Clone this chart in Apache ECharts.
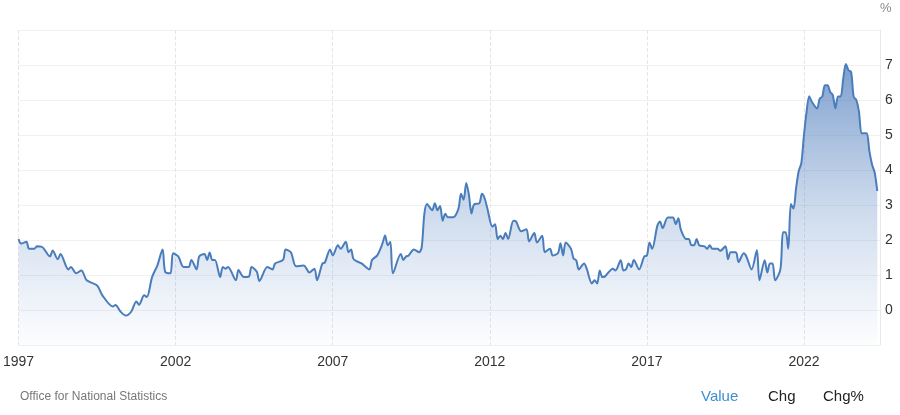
<!DOCTYPE html>
<html><head><meta charset="utf-8">
<script src="https://cdn.jsdelivr.net/npm/echarts@6/dist/echarts.min.js"></script>
<style>html,body{margin:0;padding:0;background:#fff}#c{width:900px;height:415px}</style>
</head><body><div id="c"></div>
<script>
// month offsets from Jan 1997
const monthIdx = [0,1,3,4,6,7,9,12,13,15,16,19,20,22,24,26,30,32,36,37,39,41,43,45,46,48,49,51,53,55,56,58,59,61,63,65,66,68,69,71,72,73,74,75,77,78,79,80,83,84,86,88,89,91,92,95,97,98,101,102,104,106,109,110,111,113,114,116,117,119,120,122,123,125,126,127,128,131,134,135,137,139,140,141,142,143,146,147,148,149,151,153,154,155,156,158,159,160,161,162,163,164,166,168,169,170,171,172,173,174,176,177,178,179,181,182,183,184,185,186,187,189,190,192,194,195,197,198,200,201,203,204,206,207,208,209,211,212,213,214,216,217,219,220,221,222,223,224,227,228,230,231,232,233,234,235,237,239,240,241,242,244,245,246,248,250,251,252,253,255,256,257,258,259,260,262,263,264,265,267,268,270,271,272,274,275,277,278,280,282,283,285,286,287,288,289,291,292,293,294,295,296,297,298,299,300,301,302,303,305,306,307,308,309,310,311,312,313,314,315,316,317,318,319,320,321,322,323,324,325,326,327,328];
const values = [2.03,1.9,1.95,1.75,1.75,1.82,1.8,1.53,1.7,1.45,1.6,1.16,1.23,1.05,1.13,0.85,0.7,0.42,0.1,0.14,-0.05,-0.16,-0.05,0.24,0.15,0.42,0.37,0.94,1.27,1.73,1.09,1.05,1.62,1.53,1.23,1.23,1.43,1.16,1.53,1.6,1.43,1.64,1.43,1.43,0.94,1.23,1.18,1.23,0.85,1.14,0.94,0.96,1.23,1.09,0.83,1.23,1.16,1.33,1.43,1.73,1.65,1.25,1.27,1.18,1.07,1.18,0.85,1.32,1.36,1.73,1.56,1.85,1.75,1.95,1.65,1.73,1.45,1.33,1.16,1.43,1.56,1.9,2.13,1.85,1.95,1.05,1.6,1.43,1.53,1.56,1.73,1.65,1.8,2.75,3.03,2.85,3.05,2.85,2.97,2.55,2.75,2.65,2.65,2.89,3.32,3.15,3.63,3.3,2.76,3.02,3.05,3.32,3.2,2.92,2.38,2.45,2.03,2.12,2.03,2.2,2.03,2.55,2.53,2.25,2.31,1.96,2.2,1.93,2.12,1.65,1.75,1.56,1.62,1.91,1.56,1.93,1.75,1.47,1.42,1.16,1.33,1.18,0.76,0.85,0.76,1.13,0.94,0.96,1.18,1.13,1.42,1.13,1.16,1.33,1.23,1.43,1.16,1.53,1.55,1.93,1.75,2.41,2.53,2.34,2.64,2.64,2.45,2.62,2.29,2.03,2.03,1.85,1.85,2.03,1.85,1.82,1.75,1.85,1.75,1.75,1.69,1.82,1.45,1.65,1.65,1.37,1.62,1.53,1.16,1.71,0.85,1.42,1.07,1.33,1.33,0.85,1.16,2.22,2.22,1.75,3.03,2.9,3.49,3.97,4.2,5.0,5.67,6.11,5.95,5.76,6.04,6.1,6.42,6.42,6.23,6.14,5.76,6.1,6.1,6.61,7.03,6.85,6.8,6.09,6.0,5.67,5.05,5.05,5.05,4.53,4.16,3.93,3.4];
const xTicks = [1997,2002,2007,2012,2017,2022];
const yTicks = [0,1,2,3,4,5,6,7];

const data = monthIdx.map((m,i)=>[1997+m/12, values[i]]);
const chart = echarts.init(document.getElementById('c'));
chart.setOption({
  animation:false,
  grid:{left:15,right:20,top:30,bottom:70},
  xAxis:{type:'value',min:1997,max:2024.42,interval:5,
    axisLine:{show:false},axisTick:{show:false},
    axisLabel:{color:'#333',fontSize:14,fontFamily:'Arial, Liberation Sans',margin:10,showMaxLabel:false,
      formatter:v=>xTicks.includes(Math.round(v))?String(Math.round(v)):''},
    splitLine:{show:true,lineStyle:{color:'#e6e6e6',type:'dashed'}}},
  yAxis:{type:'value',position:'right',min:-1,max:8,interval:1,
    axisLine:{show:true,lineStyle:{color:'#e8e8e8'}},axisTick:{show:false},
    axisLabel:{color:'#333',fontSize:14,fontFamily:'Arial, Liberation Sans',margin:5,
      formatter:v=>yTicks.includes(v)?String(v):''},
    splitLine:{lineStyle:{color:'#e2e2e2',type:'dotted'}}},
  series:[{type:'line',data:data,symbol:'none',smooth:0.3,
    lineStyle:{color:'#4a7dbb',width:2},
    areaStyle:{origin:'start',color:new echarts.graphic.LinearGradient(0,0,0,1,[
      {offset:0,color:'rgba(60,110,180,0.95)'},{offset:0.5,color:'rgba(90,135,195,0.45)'},{offset:1,color:'rgba(120,155,210,0.03)'}])}}],
  graphic:[
    {type:'text',left:880,top:2,style:{text:'%',fill:'#888',font:'13px Arial, Liberation Sans'}},
    {type:'text',left:20,top:391,style:{text:'Office for National Statistics',fill:'#777',font:'12px Arial, Liberation Sans'}},
    {type:'text',left:701,top:389,style:{text:'Value',fill:'#3d8fd1',font:'15px Arial, Liberation Sans'}},
    {type:'text',left:768,top:389,style:{text:'Chg',fill:'#222',font:'15px Arial, Liberation Sans'}},
    {type:'text',left:823,top:389,style:{text:'Chg%',fill:'#222',font:'15px Arial, Liberation Sans'}}
  ]
});
</script></body></html>
